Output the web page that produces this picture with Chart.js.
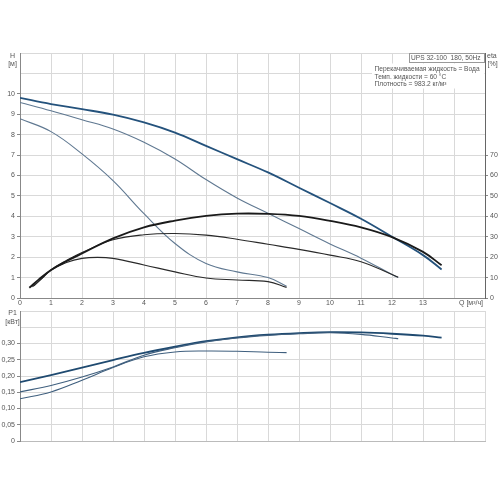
<!DOCTYPE html>
<html>
<head>
<meta charset="utf-8">
<script src="https://cdn.jsdelivr.net/npm/chart.js@4.4.1/dist/chart.umd.min.js"></script>
<style>
  body { margin: 0; background: #fff; }
  #top { position: absolute; left: 0; top: 0; }
  #bottom { position: absolute; left: 0; top: 300px; }
</style>
</head>
<body>
<canvas id="top" width="500" height="312"></canvas>
<canvas id="bottom" width="500" height="150"></canvas>
<script>
// напор (H), скорость 3 / 2 / 1
const h3Q = [0, 1, 2, 3, 4, 5, 6, 7, 8, 9, 10, 11, 12, 13, 13.6];
const h3 = [9.8, 9.5, 9.25, 8.98, 8.6, 8.1, 7.45, 6.8, 6.15, 5.4, 4.65, 3.88, 3.0, 2.1, 1.4];
const h2Q = [0, 1, 2, 3, 4, 5, 6, 7, 8, 9, 10, 11, 12, 12.2];
const h2 = [9.58, 9.17, 8.73, 8.28, 7.63, 6.81, 5.8, 4.9, 4.15, 3.4, 2.65, 1.95, 1.15, 1.0];
const h1Q = [0, 1, 2, 3, 4, 5, 6, 7, 8, 8.6];
const h1 = [8.78, 8.15, 7.06, 5.75, 4.13, 2.67, 1.69, 1.28, 1.0, 0.58];
// КПД (eta, %), скорость 3 / 2 / 1
const e3Q = [0.3, 0.6, 1, 1.5, 2, 3, 4, 5, 6, 7, 8, 9, 10, 11, 12, 13, 13.6];
const e3 = [5, 9, 13.7, 18, 21.8, 29.2, 34.6, 37.9, 40.2, 41.3, 41.2, 40.2, 37.8, 34.6, 29.8, 22.6, 16];
const e2Q = [0.45, 0.7, 1, 1.5, 2, 3, 4, 5, 6, 7, 8, 9, 10, 11, 12, 12.2];
const e2 = [6, 9.5, 13.8, 18.4, 22.3, 28.5, 31, 31.6, 30.8, 28.8, 26.3, 23.8, 21, 17.8, 11.5, 10.2];
const e1Q = [0.4, 0.7, 1, 1.5, 2, 2.5, 3, 4, 5, 6, 7, 8, 8.6];
const e1 = [5.5, 9.5, 13.6, 17.4, 19.4, 19.9, 19.4, 16.2, 12.8, 9.8, 8.8, 8, 5.2];
// мощность P1 (кВт)
const p3Q = [0, 1, 2, 3, 4, 5, 6, 7, 8, 9, 10, 11, 12, 13, 13.6];
const p3 = [0.181, 0.203, 0.226, 0.249, 0.271, 0.29, 0.307, 0.319, 0.327, 0.332, 0.335, 0.334, 0.330, 0.324, 0.318];
const p2Q = [0, 1, 2, 3, 4, 5, 6, 7, 8, 9, 10, 11, 12, 12.2];
const p2 = [0.151, 0.171, 0.197, 0.228, 0.264, 0.287, 0.305, 0.317, 0.325, 0.33, 0.333, 0.328, 0.317, 0.315];
const p1Q = [0, 1, 2, 3, 4, 5, 6, 7, 8, 8.6];
const p1 = [0.130, 0.151, 0.187, 0.226, 0.259, 0.274, 0.277, 0.276, 0.273, 0.272];

const qLabels = [0, 1, 2, 3, 4, 5, 6, 7, 8, 9, 10, 11, 12, 13];
const hLabels = [0, 1, 2, 3, 4, 5, 6, 7, 8, 9, 10];
const etaLabels = [0, 10, 20, 30, 40, 50, 60, 70];
const pLabels = ['0', '0,05', '0,10', '0,15', '0,20', '0,25', '0,30'];
const infoLines = ['Перекачиваемая жидкость = Вода', 'Темп. жидкости = 60 °C', 'Плотность = 983.2 кг/м³'];

const FONT = 'Liberation Sans, Arial, sans-serif';
Chart.defaults.font.family = FONT;
Chart.defaults.font.size = 7;
Chart.defaults.color = '#555';

function pts(xs, ys) {
  return xs.map((x, i) => ({ x: x, y: ys[i] }));
}
function line(xs, ys, color, width, axis) {
  return {
    data: pts(xs, ys), borderColor: color, borderWidth: width, yAxisID: axis || 'y',
    pointRadius: 0, fill: false, tension: 0.4
  };
}

const gridCol = '#d9d9d9';

const textTop = {
  id: 'textTop',
  afterDraw(chart) {
    const c = chart.ctx;
    c.save();
    c.font = '7px ' + FONT;
    c.fillStyle = '#555';
    c.textBaseline = 'middle';
    c.textAlign = 'center';
    c.fillText('H', 12.5, 56);
    c.fillText('[м]', 12.5, 64);
    c.textAlign = 'left';
    c.fillText('eta', 487, 56);
    c.fillText('[%]', 487.5, 64);
    c.textAlign = 'right';
    c.fillText('Q [м³/ч]', 483, 303.5);
    // box with pump name
    c.fillStyle = '#fff';
    c.fillRect(372, 63.5, 112.5, 25);
    c.fillRect(410, 54, 74.5, 8);
    c.strokeStyle = '#999';
    c.lineWidth = 1;
    c.strokeRect(409.5, 53.5, 75, 9);
    c.fillStyle = '#555';
    c.textAlign = 'left';
    c.font = '6.6px ' + FONT;
    c.fillText('UPS 32-100  180, 50Hz', 411, 58);
    infoLines.forEach((t, i) => c.fillText(t, 374.5, 69.5 + i * 7.4));
    c.restore();
  }
};

new Chart(document.getElementById('top'), {
  type: 'line',
  data: {
    datasets: [
      line(e3Q, e3, '#1a1a1a', 1.8, 'y2'),
      line(e2Q, e2, '#2a2a2a', 1.1, 'y2'),
      line(e1Q, e1, '#2a2a2a', 1.1, 'y2'),
      line(h1Q, h1, '#5f7891', 1.1),
      line(h2Q, h2, '#5f7891', 1.1),
      line(h3Q, h3, '#24527c', 1.8)
    ]
  },
  options: {
    responsive: false, animation: false,
    layout: { padding: { top: 53, left: 0, right: 0, bottom: 0 } },
    plugins: { legend: { display: false }, tooltip: { enabled: false } },
    scales: {
      x: {
        type: 'linear', min: 0, max: 15,
        ticks: { stepSize: 1, padding: 1, maxRotation: 0, autoSkip: false,
          callback: v => qLabels.includes(v) ? String(v) : '' },
        grid: { color: gridCol, tickLength: 0 },
        border: { color: '#888' },
        afterFit: s => { s.height = 14; }
      },
      y: {
        position: 'left', min: 0, max: 12,
        ticks: { stepSize: 1, padding: 2, autoSkip: false,
          callback: v => hLabels.includes(v) ? String(v) : '' },
        grid: { color: gridCol, tickLength: 3,
          tickColor: ctx => hLabels.includes(ctx.tick.value) ? '#888' : 'rgba(0,0,0,0)' },
        border: { color: '#888' },
        afterFit: s => { s.width = 20; }
      },
      y2: {
        position: 'right', min: 0, max: 120,
        ticks: { stepSize: 10, padding: 2, autoSkip: false,
          callback: v => etaLabels.includes(v) ? String(v) : '' },
        grid: { drawOnChartArea: false, tickLength: 3,
          tickColor: ctx => etaLabels.includes(ctx.tick.value) ? '#888' : 'rgba(0,0,0,0)' },
        border: { color: '#666' },
        afterFit: s => { s.width = 15; }
      }
    }
  },
  plugins: [textTop]
});

const textBottom = {
  id: 'textBottom',
  afterDraw(chart) {
    const c = chart.ctx;
    c.save();
    c.font = '7px ' + FONT;
    c.fillStyle = '#555';
    c.textBaseline = 'middle';
    c.textAlign = 'center';
    c.fillText('P1', 12.5, 13);
    c.fillText('[кВт]', 12.5, 22);
    c.restore();
  }
};

new Chart(document.getElementById('bottom'), {
  type: 'line',
  data: {
    datasets: [
      line(p1Q, p1, '#3f5f7e', 1.1),
      line(p2Q, p2, '#3f5f7e', 1.1),
      line(p3Q, p3, '#1f4a70', 1.8)
    ]
  },
  options: {
    responsive: false, animation: false,
    layout: { padding: { top: 11, left: 0, right: 15, bottom: 0 } },
    plugins: { legend: { display: false }, tooltip: { enabled: false } },
    scales: {
      x: {
        type: 'linear', min: 0, max: 15,
        ticks: { display: false, stepSize: 1 },
        grid: { color: gridCol, tickLength: 0 },
        border: { color: '#bbb' },
        afterFit: s => { s.height = 9; }
      },
      y: {
        min: 0, max: 0.4,
        ticks: { stepSize: 0.05, padding: 2, autoSkip: false,
          callback: (v, i) => pLabels[i] !== undefined ? pLabels[i] : '' },
        grid: { color: gridCol, tickLength: 3,
          tickColor: ctx => ctx.index < pLabels.length ? '#888' : 'rgba(0,0,0,0)' },
        border: { color: '#888' },
        afterFit: s => { s.width = 20; }
      }
    }
  },
  plugins: [textBottom]
});
</script>
</body>
</html>
